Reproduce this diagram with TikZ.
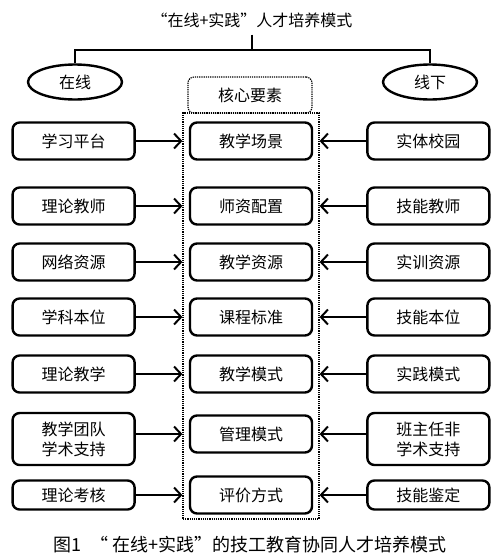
\documentclass[tikz,border=0pt]{standalone}
\usepackage{fontspec}
\setmainfont{Noto Sans CJK SC}
\usepackage{tikz}
\usetikzlibrary{shapes,arrows.meta,positioning,calc}

\begin{document}
\begin{tikzpicture}[
    x=1pt, y=-1pt,
    node distance=53pt,
    box/.style={rectangle, draw=black, line width=2.4pt, rounded corners=7pt, align=center, minimum height=37pt, minimum width=122pt, font=\fontsize{16}{20}\selectfont, inner sep=2pt},
    tall/.style={box, minimum height=52pt},
    low/.style={box, minimum height=29pt},
    oval/.style={ellipse, draw=black, line width=2.4pt, minimum width=94pt, minimum height=35pt, font=\fontsize{16}{20}\selectfont},
    dot/.style={rectangle, draw=black, line width=1.2pt, densely dotted},
    arr/.style={-{Straight Barb[length=7pt,width=15pt,line width=2pt]}, line width=2.2pt, draw=black},
    tree/.style={line width=2.4pt, draw=black}
]
    \useasboundingbox (0,0) rectangle (501,560);

    % top of the tree
    \node [font=\fontsize{16}{20}\selectfont, inner ysep=7pt] (title) at (252,20) {“在线+实践”人才培养模式};
    \node [oval] (onl) at (75,82) {在线};
    \node [oval] (offl) at (430,82) {线下};
    \coordinate (fork) at (252,50);
    \draw [tree] (title.south) -- (fork);
    \draw [tree] (onl.north) |- (fork) -| (offl.north);

    % core elements
    \node [dot, rounded corners=6pt, minimum width=124pt, minimum height=36pt, font=\fontsize{16}{20}\selectfont] (key) at (250,95) {核心要素};
    \node [dot, minimum width=136pt, minimum height=406pt] (core) at (251,316) {};

    \node [box] (c1) at (251,141) {教学场景};
    \node [box] (c2) at (251,206) {师资配置};
    \node [box] (c3) at (251,262) {教学资源};
    \node [box] (c4) at (251,317) {课程标准};
    \node [box] (c5) at (251,374) {教学模式};
    \node [box] (c6) at (251,434) {管理模式};
    \node [box] (c7) at (251,495) {评价方式};

    % online side
    \node [box, left=of c1] (l1) {学习平台};
    \node [box, left=of c2] (l2) {理论教师};
    \node [box, left=of c3] (l3) {网络资源};
    \node [box, left=of c4] (l4) {学科本位};
    \node [box, left=of c5] (l5) {理论教学};
    \node [tall, left=of c6, yshift=-5pt] (l6) {教学团队\\学术支持};
    \node [low, left=of c7] (l7) {理论考核};

    % offline side
    \node [box, right=of c1] (r1) {实体校园};
    \node [box, right=of c2] (r2) {技能教师};
    \node [box, right=of c3] (r3) {实训资源};
    \node [box, right=of c4] (r4) {技能本位};
    \node [box, right=of c5] (r5) {实践模式};
    \node [tall, right=of c6, yshift=-5pt] (r6) {班主任非\\学术支持};
    \node [low, right=of c7] (r7) {技能鉴定};

    \draw [arr] (l1) -- (l1 -| core.west);
    \draw [arr] (l2) -- (l2 -| core.west);
    \draw [arr] (l3) -- (l3 -| core.west);
    \draw [arr] (l4) -- (l4 -| core.west);
    \draw [arr] (l5) -- (l5 -| core.west);
    \draw [arr] (l6.east |- c6) -- (c6 -| core.west);
    \draw [arr] (l7) -- (l7 -| core.west);

    \draw [arr] (r1) -- (r1 -| core.east);
    \draw [arr] (r2) -- (r2 -| core.east);
    \draw [arr] (r3) -- (r3 -| core.east);
    \draw [arr] (r4) -- (r4 -| core.east);
    \draw [arr] (r5) -- (r5 -| core.east);
    \draw [arr] (r6.west |- c6) -- (c6 -| core.east);
    \draw [arr] (r7) -- (r7 -| core.east);

    \node [font=\fontsize{18}{22}\selectfont] (cap) at (250,545) {图1\ \ “ 在线+实践”的技工教育协同人才培养模式};
\end{tikzpicture}
\end{document}
